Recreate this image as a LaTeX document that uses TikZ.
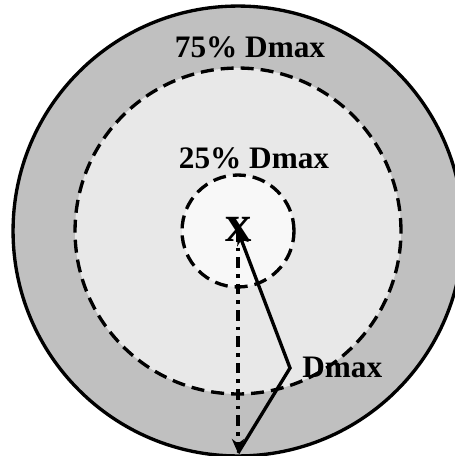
\documentclass[tikz,border=0pt]{standalone}
\usepackage{fontspec}
\setmainfont{Liberation Serif}
\usepackage{tikz}
\usetikzlibrary{arrows.meta, positioning, calc}
\definecolor{ringgray}{HTML}{C0C0C0}
\definecolor{midgray}{HTML}{E8E8E8}
\definecolor{coregray}{HTML}{F8F8F8}

\begin{document}
\begin{tikzpicture}[x=0.02cm, y=-0.02cm, >={Stealth[length=8pt,width=7pt]},
  zone/.style={line width=1.9pt, dash pattern=on 7.4pt off 4pt},
  lbl/.style={font=\fontsize{17.8}{20}\selectfont\bfseries, inner sep=0pt}]
  \useasboundingbox (0,0) rectangle (455,456);
  \clip (0,0) rectangle (455,456);
  % three zones round the point
  \coordinate (mid) at (238,231);
  \fill[ringgray] (mid) circle (4.5cm);
  \draw[line width=1.9pt] (mid) circle (4.5cm);
  \fill[midgray] (mid) circle (3.26cm);
  \draw[zone] (mid) circle (3.26cm);
  \fill[coregray] (mid) circle (1.12cm);
  \draw[zone] (mid) circle (1.12cm);
  \node[lbl] (outerlbl) at (250,47) {75\% Dmax};
  \node[lbl] (innerlbl) at (254,158) {25\% Dmax};
  \node[font=\fontsize{30}{31}\selectfont\bfseries, inner sep=0pt] (xmark) at (239,229) {x};
  % the radius and the bent path
  \coordinate (rim) at (238,453);
  \coordinate (bend) at (290,368);
  \draw[->, line width=2pt, dash pattern=on 6pt off 3.5pt on 2pt off 3.5pt] (mid) -- (rim);
  \draw[->, line width=1.9pt] (rim) -- (bend) -- (mid);
  \node[lbl, anchor=west] (dlbl) at (302,367) {Dmax};
\end{tikzpicture}
\end{document}
